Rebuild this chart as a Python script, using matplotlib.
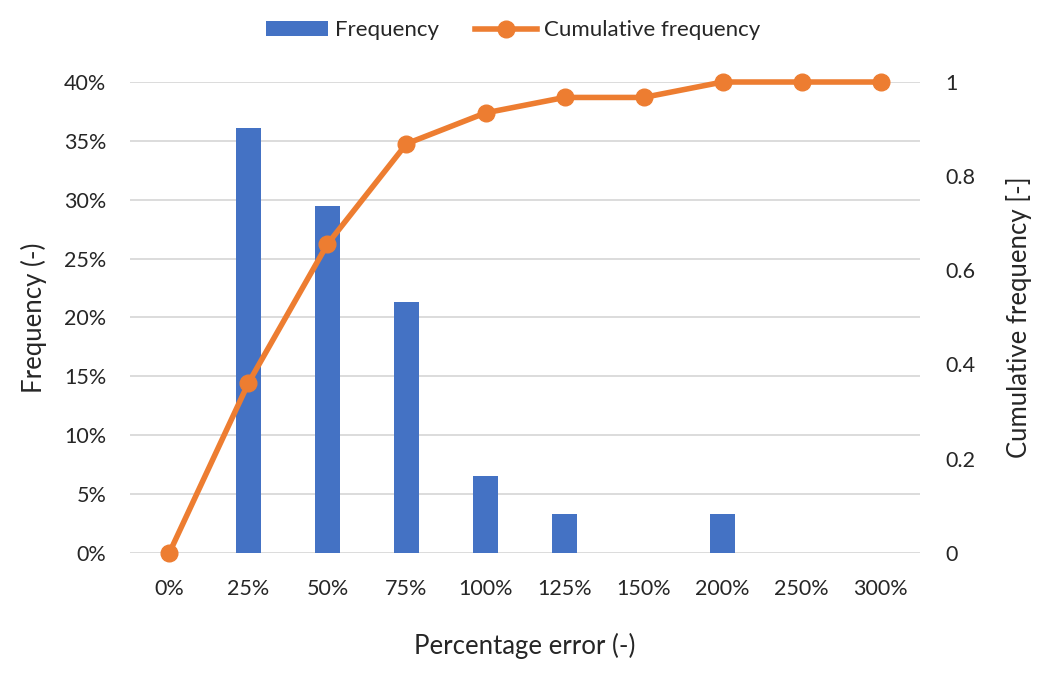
import matplotlib.pyplot as plt
import numpy as np
from matplotlib.ticker import FuncFormatter

plt.rcParams['font.family'] = ['Lato', 'DejaVu Sans']

categories = ['0%', '25%', '50%', '75%', '100%', '125%', '150%', '200%', '250%', '300%']
frequency = [0, 22 / 61, 18 / 61, 13 / 61, 4 / 61, 2 / 61, 0, 2 / 61, 0, 0]
cumulative = [0, 22 / 61, 40 / 61, 53 / 61, 57 / 61, 59 / 61, 59 / 61, 1, 1, 1]

blue = '#4472C4'
orange = '#ED7D31'
text_col = '#262626'

fig = plt.figure(figsize=(10.47, 6.75), dpi=100)
ax = fig.add_axes([0.124, 0.181, 0.755, 0.6975])
ax2 = ax.twinx()

x = np.arange(len(categories))
ax.bar(x, frequency, width=0.31, color=blue, label='Frequency', zorder=2)
ax2.plot(x, cumulative, color=orange, lw=4, marker='o', ms=12,
         label='Cumulative frequency', zorder=3, clip_on=False)

ax.set_xlim(-0.5, 9.5)
ax.set_ylim(0, 0.4)
ax2.set_ylim(0, 1)
ax.set_yticks(np.arange(0, 0.41, 0.05))
ax.yaxis.set_major_formatter(FuncFormatter(lambda v, p: f'{v * 100:.0f}%'))
ax2.set_yticks([0, 0.2, 0.4, 0.6, 0.8, 1])
ax2.yaxis.set_major_formatter(FuncFormatter(lambda v, p: f'{v:g}'))
ax.set_xticks(x)
ax.set_xticklabels(categories)

ax.grid(axis='y', color='#D9D9D9', lw=1.3, zorder=0)
ax.set_axisbelow(True)
for a in (ax, ax2):
    for s in a.spines.values():
        s.set_visible(False)
    a.tick_params(length=0, labelsize=15.5, colors=text_col)
ax.tick_params(axis='y', pad=17)
ax.tick_params(axis='x', pad=19)
ax2.tick_params(axis='y', pad=18)

ax.set_xlabel('Percentage error (-)', fontsize=18.5, color=text_col, labelpad=24)
ax.set_ylabel('Frequency (-)', fontsize=18.5, color=text_col, labelpad=12)
ax2.set_ylabel('Cumulative frequency [-]', fontsize=18.5, color=text_col, labelpad=22)

h1, l1 = ax.get_legend_handles_labels()
h2, l2 = ax2.get_legend_handles_labels()
fig.legend(h1 + h2, l1 + l2, loc='center', bbox_to_anchor=(0.49, 0.955), ncol=2,
           frameon=False, fontsize=16, handlelength=2.8, columnspacing=1.6,
           handletextpad=0.3, labelcolor=text_col)

fig.savefig('out.png', dpi=100)
